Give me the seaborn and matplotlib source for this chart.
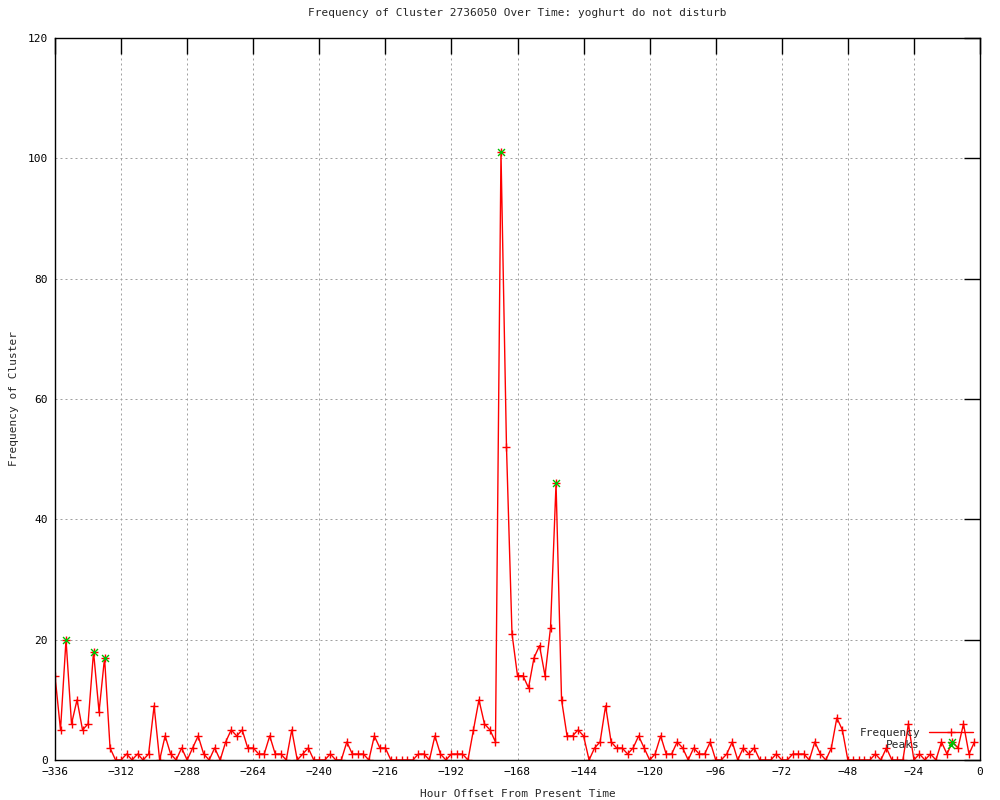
import numpy as np
import pandas as pd
import matplotlib
matplotlib.use('Agg')
import matplotlib.pyplot as plt
import seaborn as sns

# hourly offsets, every 2 hours from -336 to -2
hours = list(range(-336, 0, 2))

freq = [
    # -336 .. -316
    14, 5, 20, 6, 10, 5, 6, 18, 8, 17, 2,
    # -314 .. -280
    0, 0, 1, 0, 1, 0, 1, 9, 0, 4, 1, 0, 2, 0, 2, 4, 1, 0,
    # -278 .. -222
    2, 0, 3, 5, 4, 5, 2, 2, 1, 1, 4, 1, 1, 0, 5, 0, 1, 2, 0, 0,
    0, 1, 0, 0, 3, 1, 1, 1, 0,
    # -220 .. -154
    4, 2, 2, 0, 0, 0, 0, 0, 1, 1, 0, 4, 1, 0, 1, 1, 1, 0, 5, 10,
    6, 5, 3, 101, 52, 21, 14, 14, 12, 17, 19, 14, 22, 46,
    # -152 .. -92
    10, 4, 4, 5, 4, 0, 2, 3, 9, 3, 2, 2, 1, 2, 4, 2, 0, 1, 4, 1,
    1, 3, 2, 0, 2, 1, 1, 3, 0, 0, 1,
    # -90 .. -44
    3, 0, 2, 1, 2, 0, 0, 0, 1, 0, 0, 1, 1, 1, 0, 3, 1, 0, 2, 7,
    5, 0, 0, 0,
    # -42 .. -2
    0, 0, 1, 0, 2, 0, 0, 0, 6, 0, 1, 0, 1, 0, 3, 1, 3, 2, 6, 1, 3,
]

peak_hours = [-332, -322, -318, -174, -154, -10]
peak_values = [20, 18, 17, 101, 46, 3]

df = pd.DataFrame({'hour': hours, 'freq': freq})
peaks = pd.DataFrame({'hour': peak_hours, 'freq': peak_values})

sns.set_style('white')
plt.rcParams['font.family'] = ['DejaVu Sans Mono']
plt.rcParams['font.size'] = 8

fig = plt.figure(figsize=(10, 8), dpi=100)
ax = fig.add_axes([0.055, 0.05, 0.925, 0.9025])

sns.lineplot(data=df, x='hour', y='freq', ax=ax, color='red', lw=1,
             marker='+', markersize=5.5, markeredgewidth=1, markeredgecolor='red',
             label='Frequency')
sns.scatterplot(data=peaks, x='hour', y='freq', ax=ax, color='#00c000',
                marker='x', s=25, linewidth=1, label='Peaks', zorder=5)

ax.set_xlim(-336, 0)
ax.set_ylim(0, 120)
ax.set_xticks(range(-336, 1, 24))
ax.set_yticks(range(0, 121, 20))
ax.grid(True, color='#a0a0a0', linestyle=(0, (2, 3)), lw=0.72)
ax.tick_params(direction='in', length=11.5, width=1, top=True, right=True,
               colors='black', labelsize=8, pad=5)
for sp in ax.spines.values():
    sp.set_color('black')
    sp.set_linewidth(1)

ax.set_title('Frequency of Cluster 2736050 Over Time: yoghurt do not disturb',
             fontsize=8, pad=16)
ax.set_xlabel('Hour Offset From Present Time', fontsize=8, labelpad=9)
ax.set_ylabel('Frequency of Cluster', fontsize=8, labelpad=6)

ax.legend(loc='lower right', bbox_to_anchor=(1.0, 0.005), frameon=False,
          markerfirst=False, handlelength=4, labelspacing=0.2, fontsize=8,
          borderaxespad=0.2)

fig.savefig('out.png', dpi=100)
